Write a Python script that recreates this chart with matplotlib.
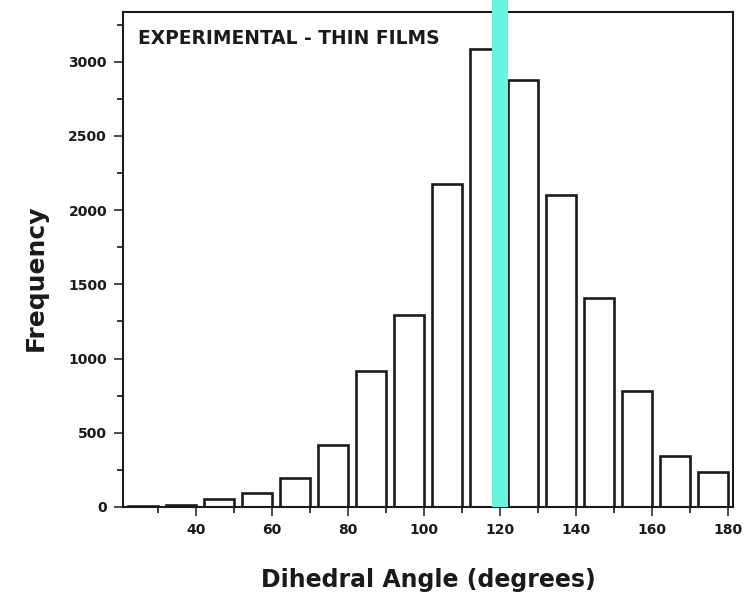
import numpy as np
import matplotlib
matplotlib.use('Agg')
import matplotlib.pyplot as plt

# histogram of dihedral angles, bins labelled by their upper edge
bin_edges=[30,40,50,60,70,80,90,100,110,120,130,140,150,160,170,180]
counts=[8,15,55,92,193,417,917,1296,2174,3088,2875,2100,1410,782,341,233]
mark_angle=120
title_text='EXPERIMENTAL - THIN FILMS'

plt.rcParams['font.family']='DejaVu Sans'
plt.rcParams['font.weight']='bold'

fig=plt.figure(figsize=(7.54,5.92),dpi=100)
ax=fig.add_axes([0.1631,0.1436,0.9721-0.1631,0.9797-0.1436])

bar_w=8
ax.bar(np.array(bin_edges)-bar_w,counts,width=bar_w,align='edge',
       facecolor='white',edgecolor='#1a1a1a',linewidth=1.9,zorder=2)

# marker line at 120 deg, runs past the top of the frame
ax.axvline(mark_angle,ymin=0,ymax=1.06,color='#68f5e0',linewidth=11.5,
           solid_capstyle='butt',clip_on=False,zorder=5)

ax.set_xlim(20.8,181.2)
ax.set_ylim(0,3335)
ax.set_xticks(np.arange(40,181,20))
ax.set_xticks(np.arange(30,181,10),minor=True)
ax.set_yticks(np.arange(0,3001,500))
ax.set_yticks(np.arange(250,3335,500),minor=True)

ax.tick_params(axis='both',which='major',direction='out',length=6.5,width=1.1,
               labelsize=10,colors='#1a1a1a',pad=5)
ax.tick_params(axis='both',which='minor',direction='out',length=4,width=1.1)
ax.tick_params(top=False,right=False,which='both')
for sp in ax.spines.values():
    sp.set_linewidth(1.5)
    sp.set_color('#1a1a1a')

ax.set_xlabel('Dihedral Angle (degrees)',fontsize=17,fontweight='bold',color='#1a1a1a',labelpad=22)
ax.set_ylabel('Frequency',fontsize=18,fontweight='bold',color='#1a1a1a')
ax.yaxis.set_label_coords(-0.123,0.463)
ax.text(0.0246,0.947,title_text,transform=ax.transAxes,fontsize=13.4,
        fontweight='bold',color='#1a1a1a',ha='left',va='center')

fig.savefig('out.png',dpi=100)
